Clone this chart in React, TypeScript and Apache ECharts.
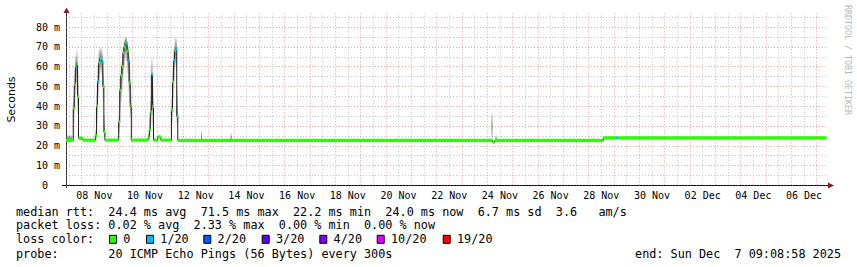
import React, { useEffect, useRef } from 'react';
import * as echarts from 'echarts';

// ---------- time range ----------
const START = '2025-11-07 09:08:58';
const END = '2025-12-07 09:08:58';

// ---------- x tick labels (centered on noon) ----------
const xLabelTimes = [
  '2025-11-08 12:00', '2025-11-10 12:00', '2025-11-12 12:00', '2025-11-14 12:00', '2025-11-16 12:00',
  '2025-11-18 12:00', '2025-11-20 12:00', '2025-11-22 12:00', '2025-11-24 12:00', '2025-11-26 12:00',
  '2025-11-28 12:00', '2025-11-30 12:00', '2025-12-02 12:00', '2025-12-04 12:00', '2025-12-06 12:00',
];
const xLabels = ['08 Nov', '10 Nov', '12 Nov', '14 Nov', '16 Nov', '18 Nov', '20 Nov', '22 Nov', '24 Nov', '26 Nov', '28 Nov', '30 Nov', '02 Dec', '04 Dec', '06 Dec'];

// ---------- y ticks (ms) ----------
const yMajor = [0, 10, 20, 30, 40, 50, 60, 70, 80];
const yMinor = [5, 15, 25, 35, 45, 55, 65, 75, 85];
const Y_MAX = 87;

// ---------- loss colours ----------
const lossLabels = ['0', '1/20', '2/20', '3/20', '4/20', '10/20', '19/20'];
const lossColors = ['#26ff00', '#00b8ff', '#0059ff', '#5e00ff', '#7e00ff', '#dd00ff', '#ff0000'];

// ---------- baseline median segments ----------
const baseFrom = [
  '2025-11-07 09:08', '2025-11-07 21:00', '2025-11-08 01:00', '2025-11-08 22:00', '2025-11-09 23:00',
  '2025-11-10 20:00', '2025-11-11 00:00', '2025-11-11 03:00', '2025-11-11 19:00', '2025-11-24 05:00',
  '2025-11-24 07:00', '2025-11-28 14:00', '2025-11-29 02:00', '2025-11-29 03:00',
];
const baseTo = [
  '2025-11-07 16:00', '2025-11-08 01:00', '2025-11-08 13:00', '2025-11-09 11:00', '2025-11-10 15:00',
  '2025-11-11 00:00', '2025-11-11 03:00', '2025-11-11 13:00', '2025-11-24 05:00', '2025-11-24 07:00',
  '2025-11-28 14:00', '2025-11-29 02:00', '2025-11-29 03:00', '2025-12-07 09:09',
];
const baseMedian = [22.8, 23.8, 22.8, 22.8, 22.8, 22.8, 24.5, 22.8, 22.7, 21.8, 22.7, 24.0, 24.0, 24.0];
const baseLoss = [0, 0, 0, 0, 0, 0, 0, 0, 0, 0, 0, 0, 1, 0];

// ---------- hourly buckets of the latency peaks ----------
const spikeHours = [
  // 7 Nov
  '2025-11-07 16:00', '2025-11-07 17:00', '2025-11-07 18:00', '2025-11-07 19:00', '2025-11-07 20:00',
  // 8 Nov
  '2025-11-08 13:00', '2025-11-08 14:00', '2025-11-08 15:00', '2025-11-08 16:00', '2025-11-08 17:00',
  '2025-11-08 18:00', '2025-11-08 19:00', '2025-11-08 20:00', '2025-11-08 21:00',
  // 9 Nov
  '2025-11-09 11:00', '2025-11-09 12:00', '2025-11-09 13:00', '2025-11-09 14:00', '2025-11-09 15:00',
  '2025-11-09 16:00', '2025-11-09 17:00', '2025-11-09 18:00', '2025-11-09 19:00', '2025-11-09 20:00',
  '2025-11-09 21:00', '2025-11-09 22:00',
  // 10 Nov
  '2025-11-10 15:00', '2025-11-10 16:00', '2025-11-10 17:00', '2025-11-10 18:00', '2025-11-10 19:00',
  // 11 Nov
  '2025-11-11 13:00', '2025-11-11 14:00', '2025-11-11 15:00', '2025-11-11 16:00', '2025-11-11 17:00',
  '2025-11-11 18:00',
];
const spikeMedian = [
  39, 51, 60, 61.5, 45,
  25, 40, 52.5, 62, 64, 64, 62.5, 50, 27,
  32, 48, 55.5, 60, 67, 70, 72, 71.5, 68, 63, 52, 40,
  24, 28, 37, 56, 40,
  38, 52, 63, 68, 69, 35,
];
const spikeLoss = [
  0, 0, 1, 0, 0,
  0, 0, 1, 0, 1, 0, 1, 0, 0,
  0, 0, 0, 0, 0, 0, 1, 1, 0, 1, 0, 0,
  0, 0, 0, 1, 0,
  0, 0, 1, 0, 1, 1,
];
const smokeLow = [
  23, 38, 47, 52, 35,
  23, 26, 44, 52, 56, 57, 52, 40, 24,
  26, 36, 42, 48, 55, 59, 63, 62, 56, 47, 39, 34,
  23, 24, 30, 38, 28,
  30, 40, 52, 60, 58, 30,
];
const smokeHigh = [
  47, 58, 66, 69, 60,
  28, 50, 62, 69, 70, 70, 68, 60, 36,
  37, 56, 62, 66, 71, 74, 75.5, 75, 73, 70, 62, 48,
  26, 35, 45, 65, 50,
  45, 62, 70, 75, 75, 50,
];

// ---------- small smoke bumps on the flat part ----------
const bumpFrom = ['2025-11-07 09:30', '2025-11-12 17:00', '2025-11-13 21:00', '2025-11-24 04:00', '2025-11-24 08:00'];
const bumpTo = ['2025-11-07 15:00', '2025-11-12 18:00', '2025-11-13 22:00', '2025-11-24 05:00', '2025-11-24 09:00'];
const bumpLow = [21.5, 22.0, 22.0, 22.0, 22.0];
const bumpHigh = [25.5, 27.5, 26.5, 37.0, 25.5];
const bumpCore = [23.0, 23.5, 23.5, 30.0, 23.0];

// ---------- legend texts ----------
const statLine1 = 'median rtt:  24.4 ms avg  71.5 ms max  22.2 ms min  24.0 ms now  6.7 ms sd  3.6   am/s';
const statLine2 = 'packet loss: 0.02 % avg  2.33 % max  0.00 % min  0.00 % now';
const lossTitle = 'loss color:';
const probeLine = 'probe:       20 ICMP Echo Pings (56 Bytes) every 300s';
const endLine = 'end: Sun Dec  7 09:08:58 2025';
const credit = 'RRDTOOL / TOBI OETIKER';

function ts(s: string): number {
  const [d, t] = s.split(' ');
  const [Y, M, D] = d.split('-').map(Number);
  const [h, mi, se] = t.split(':').map(Number);
  return new Date(Y, M - 1, D, h, mi || 0, se || 0).getTime();
}

const HOUR = 3600 * 1000;
const MONO = '"DejaVu Sans Mono", monospace';

export default function App() {
  const ref = useRef<HTMLDivElement>(null);

  useEffect(() => {
    if (!ref.current) return;
    const chart = echarts.init(ref.current, undefined, { renderer: 'svg' });
    const t0 = ts(START);
    const t1 = ts(END);

    const midnights: number[] = [];
    for (let d = new Date(2025, 10, 8); d.getTime() <= t1; d.setDate(d.getDate() + 1)) midnights.push(d.getTime());
    const noons: number[] = [];
    for (let d = new Date(2025, 10, 7, 12); d.getTime() <= t1; d.setDate(d.getDate() + 1)) noons.push(d.getTime());
    const labelVals = xLabelTimes.map(ts);

    // median segments
    type Seg = [number, number, number, number];
    const segs: Seg[] = [];
    baseFrom.forEach((f, i) => segs.push([Math.max(ts(f), t0), Math.min(ts(baseTo[i]), t1), baseMedian[i], baseLoss[i]]));
    spikeHours.forEach((h, i) => segs.push([ts(h), ts(h) + HOUR, spikeMedian[i], spikeLoss[i]]));
    segs.sort((a, b) => a[0] - b[0]);

    const linePts: (number[])[] = [];
    segs.forEach((s) => { linePts.push([s[0], s[2]]); linePts.push([s[1], s[2]]); });

    const smoke: number[][] = [];
    spikeHours.forEach((h, i) => smoke.push([ts(h), ts(h) + HOUR, smokeLow[i], smokeHigh[i], spikeMedian[i]]));
    bumpFrom.forEach((f, i) => smoke.push([ts(f), ts(bumpTo[i]), bumpLow[i], bumpHigh[i], bumpCore[i]]));

    const redGrid = { show: true, lineStyle: { color: 'rgba(220,90,90,0.55)', type: [1, 2] as any, width: 1 } };
    const greyGrid = { show: true, lineStyle: { color: 'rgba(150,150,150,0.55)', type: [1, 2] as any, width: 1 } };

    const gText = (text: string, x: number, y: number, extra: any = {}) => ({
      type: 'text', x, y, silent: true,
      style: { text, fill: '#000', fontFamily: MONO, fontSize: 11.8, verticalAlign: 'middle', align: 'left', ...extra },
    });

    const swatchX = [109, 146, 203.3, 261.7, 319.3, 376.7, 442.7];
    const graphics: any[] = [
      { type: 'line', silent: true, shape: { x1: 62, y1: 185.5, x2: 829, y2: 185.5 }, style: { stroke: '#000', lineWidth: 1 } },
      { type: 'line', silent: true, shape: { x1: 66.5, y1: 188, x2: 66.5, y2: 12 }, style: { stroke: '#333', lineWidth: 1 } },
      { type: 'polygon', silent: true, shape: { points: [[828, 182.5], [834, 185.5], [828, 188.5]] }, style: { fill: '#8b1a1a' } },
      { type: 'polygon', silent: true, shape: { points: [[63.5, 13], [66.5, 7.5], [69.5, 13]] }, style: { fill: '#8b1a1a' } },
      gText(statLine1, 16, 211.7),
      gText(statLine2, 16, 225),
      gText(lossTitle, 16, 239.3),
      gText(probeLine, 16, 253.5),
      gText(endLine, 841, 253.5, { align: 'right' }),
      {
        type: 'text', x: 11, y: 99.5, rotation: Math.PI / 2, silent: true,
        style: { text: 'Seconds', fill: '#000', fontFamily: '"DejaVu Sans", sans-serif', fontSize: 11, align: 'center', verticalAlign: 'middle' },
      },
      {
        type: 'text', x: 847.5, y: 60, rotation: -Math.PI / 2, silent: true,
        style: { text: credit, fill: '#b8b8b8', fontFamily: MONO, fontSize: 8.3, align: 'center', verticalAlign: 'middle' },
      },
    ];
    lossLabels.forEach((lab, i) => {
      graphics.push({ type: 'rect', silent: true, shape: { x: swatchX[i] + 0.5, y: 235.3, width: 7, height: 8 }, style: { fill: lossColors[i], stroke: '#000', lineWidth: 1 } });
      graphics.push(gText(lab, swatchX[i] + 14.3, 239.3));
    });

    chart.setOption({
      animation: false,
      backgroundColor: '#fff',
      grid: { left: 66, right: 30.6, top: 13.3, bottom: 81.7, containLabel: false },
      xAxis: [
        {
          type: 'value', min: t0, max: t1,
          axisLine: { show: false }, axisTick: { show: false, customValues: midnights },
          axisLabel: { show: false }, splitLine: redGrid,
        },
        {
          type: 'value', min: t0, max: t1, position: 'bottom',
          axisLine: { show: false }, axisTick: { show: false, customValues: noons },
          splitLine: greyGrid,
          axisLabel: {
            show: true, customValues: labelVals, margin: 5,
            fontFamily: MONO, fontSize: 10, color: '#000',
            formatter: (v: number) => { const i = labelVals.indexOf(v); return i >= 0 ? xLabels[i] : ''; },
          },
        },
      ],
      yAxis: [
        {
          type: 'value', min: 0, max: Y_MAX,
          axisLine: { show: false }, axisTick: { show: false, customValues: yMajor },
          splitLine: redGrid,
          axisLabel: {
            customValues: yMajor, margin: 6, fontFamily: MONO, fontSize: 10, color: '#000',
            formatter: (v: number) => (v === 0 ? '{z|0}' : `${v} m`),
            rich: { z: { padding: [0, 12, 0, 0], fontFamily: MONO, fontSize: 10, color: '#000' } },
          },
        },
        {
          type: 'value', min: 0, max: Y_MAX,
          axisLine: { show: false }, axisTick: { show: false, customValues: yMinor },
          axisLabel: { show: false }, splitLine: greyGrid,
        },
      ],
      series: [
        {
          type: 'custom', name: 'smoke', xAxisIndex: 0, yAxisIndex: 0, clip: true,
          encode: { x: [0, 1], y: [2, 3, 4] },
          data: smoke,
          renderItem: (params: any, api: any) => {
            const a = api.coord([api.value(0), api.value(3)]);
            const b = api.coord([api.value(1), api.value(2)]);
            const c = api.coord([api.value(0), api.value(4)]);
            const h = Math.max(1, b[1] - a[1]);
            const r = Math.min(0.98, Math.max(0.02, (c[1] - a[1]) / h));
            return {
              type: 'rect',
              shape: { x: a[0], y: a[1], width: Math.max(1, b[0] - a[0]), height: h },
              style: {
                fill: new echarts.graphic.LinearGradient(0, 0, 0, 1, [
                  { offset: 0, color: 'rgba(0,0,0,0.07)' },
                  { offset: r, color: 'rgba(0,0,0,0.6)' },
                  { offset: 1, color: 'rgba(0,0,0,0.07)' },
                ]),
              },
            };
          },
        },
        {
          type: 'line', name: 'median-trace', xAxisIndex: 0, yAxisIndex: 0,
          data: linePts, showSymbol: false, symbol: 'none',
          lineStyle: { color: '#202020', width: 1 }, z: 3,
        },
        {
          type: 'custom', name: 'median', xAxisIndex: 0, yAxisIndex: 0, clip: true, z: 4,
          encode: { x: [0, 1], y: 2 },
          data: segs,
          renderItem: (params: any, api: any) => {
            const a = api.coord([api.value(0), api.value(2)]);
            const b = api.coord([api.value(1), api.value(2)]);
            return {
              type: 'rect',
              shape: { x: a[0], y: a[1] - 1.65, width: Math.max(1.6, b[0] - a[0]), height: 3.3 },
              style: { fill: lossColors[api.value(3)] },
            };
          },
        },
      ],
      graphic: graphics,
    });
    return () => chart.dispose();
  }, []);

  return <div ref={ref} style={{ position: 'fixed', left: 0, top: 0, width: 857, height: 267, background: '#fff' }} />;
}
